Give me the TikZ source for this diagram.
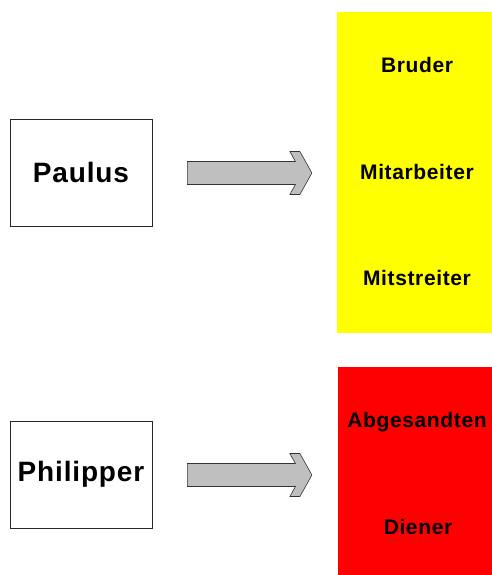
\documentclass[tikz,border=0pt]{standalone}
\usepackage{fontspec}
\setmainfont{Liberation Sans}
\newfontfamily\weitfont[LetterSpace=3]{Liberation Sans}
\usepackage{tikz}
\usetikzlibrary{positioning,%
  calc}
\definecolor{gelbfeld}{RGB}{255,255,0}
\definecolor{rotfeld}{RGB}{255,0,0}

\begin{document}
\begin{tikzpicture}
                    [x=1pt, y=-1pt,
                    person/.style={rectangle,
                        draw=black!85, fill=white, line width=.8pt,
                        minimum width=142pt, minimum height=107pt,
                        font=\weitfont\bfseries\fontsize{28}{30}\selectfont},
                    feld/.style={rectangle, draw=none,
                        minimum width=155pt},
                    wort/.style={font=\weitfont\bfseries\fontsize{21}{24}\selectfont},
                    pfeil/.style={fill=black!25, draw=black!80,
                        line width=.6pt, line join=miter}]

                    \useasboundingbox (0,0) rectangle (491,575);

                    % linke Seite
                    \node[person] (paulus) at (81,172.5)
                        {Paulus};
                    \node[person] (philipper) at (81,474.5)
                        {Philipper};

                    % rechte Seite
                    \node[feld, fill=gelbfeld, minimum height=321pt]
                        (gelb) at (414.5,172.5) {};
                    \node[feld, fill=rotfeld, minimum height=209pt]
                        (rot) at (415,471.5) {};

                    \node[wort] (bruder) at (417,65) {Bruder};
                    \node[wort] (mitarbeiter) at (417,172) {Mitarbeiter};
                    \node[wort] (mitstreiter) at (417,278) {Mitstreiter};
                    \node[wort] (abgesandten) at (417,422) {Abgesandten};
                    \node[wort] (diener) at (418,527) {Diener};

                    % Blockpfeile
                    \foreach \von in {paulus,philipper}
                        \draw[pfeil] ($(\von.east)+(35,-11)$)
                            -- ++(108,0) -- ++(-5.5,-10) -- ++(10,0)
                            -- ++(12,21.5) -- ++(-12,21.5) -- ++(-10,0)
                            -- ++(5.5,-10) -- ++(-108,0) -- cycle;
                \end{tikzpicture}
\end{document}
